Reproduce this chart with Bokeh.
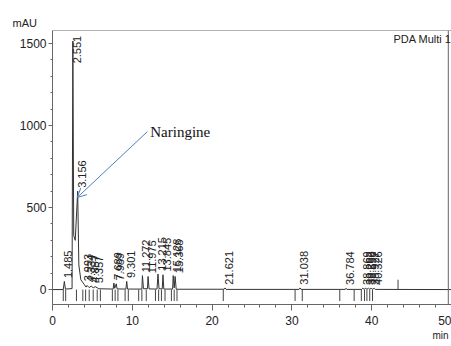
import math
from bokeh.plotting import figure
from bokeh.models import Arrow, OpenHead, Label, Span, FixedTicker, ColumnDataSource, Title
from bokeh.embed import file_html
from bokeh.resources import INLINE

# chromatogram trace (time in min, signal in mAU)
trace_t = [0, 1.35, 1.485, 1.62, 2.45, 2.551, 2.66, 2.85, 3.156, 3.3, 3.55, 3.993, 4.2, 4.334,
           4.6, 4.857, 5.1, 5.357, 5.8, 7.6, 7.689, 7.8, 7.989, 8.1, 9.2, 9.301, 9.4,
           11.2, 11.272, 11.4, 11.9, 11.975, 12.1, 13.1, 13.215, 13.35, 13.75, 13.845, 13.95,
           15.05, 15.128, 15.25, 15.368, 15.5, 21.5, 21.621, 21.75, 30.9, 31.038, 31.15,
           36.7, 36.784, 36.9, 38.75, 38.869, 39.05, 39.262, 39.4, 39.590, 39.75, 39.927,
           40.1, 40.326, 40.45, 50]
trace_y = [0, 0, 50, 3, 6, 1515, 330, 300, 600, 150, 60, 30, 15, 25,
           12, 22, 10, 18, 5, 3, 40, 8, 35, 4, 3, 50, 3,
           3, 85, 5, 5, 80, 4, 3, 95, 5, 4, 90, 3,
           3, 85, 10, 80, 2, 2, 10, 1, 1, 10, 1,
           1, 8, 1, 1, 8, 2, 8, 2, 8, 2, 8,
           2, 8, 1, 0]

# labelled peaks
peak_times = [1.485, 2.551, 3.156, 3.993, 4.334, 4.857, 5.357, 7.689, 7.989, 9.301,
              11.272, 11.975, 13.215, 13.845, 15.128, 15.368, 21.621, 31.038, 36.784,
              38.869, 39.262, 39.590, 39.927, 40.326]
peak_heights = [50, 1515, 600, 30, 25, 22, 18, 40, 35, 50,
                85, 80, 95, 90, 85, 80, 10, 10, 8,
                8, 8, 8, 8, 8]
peak_labels = ["%.3f" % t for t in peak_times]

# integration marks on the baseline
mark_times = [1.35, 1.65, 3.0, 3.8, 4.15, 4.6, 5.1, 5.6, 6.0, 7.5, 7.85, 8.2, 9.1, 9.5,
              10.8, 11.2, 11.75, 12.9, 13.3, 13.65, 14.1, 14.9, 15.25, 15.6, 21.4,
              30.4, 31.3, 36.0, 37.8, 38.7, 39.1, 39.4, 39.75, 40.1]
event_times = [43.3]

x_ticks = [0, 10, 20, 30, 40, 50]
y_ticks = [0, 500, 1000, 1500]

Y0, Y1 = -91, 1579
NARROW = "'Liberation Sans Narrow', 'Liberation Sans', sans-serif"

p = figure(width=451, height=346, x_range=(0, 50), y_range=(Y0, Y1),
           output_backend="svg", toolbar_location=None,
           min_border_left=52, min_border_right=0, min_border_top=30, min_border_bottom=42)
p.outline_line_color = None
p.xgrid.visible = False
p.ygrid.visible = False
p.background_fill_color = "white"

p.title.text = "mAU"
p.title.align = "left"
p.title.offset = -40
p.title.text_font = NARROW
p.title.text_font_size = "11px"
p.title.text_font_style = "normal"
p.title.text_color = "#222222"
p.title.standoff = 4

p.add_layout(Title(text="min", align="left", offset=380, text_font=NARROW,
                   text_font_size="10px", text_font_style="normal",
                   text_color="#222222", standoff=0), "below")

for ax in (p.xaxis[0], p.yaxis[0]):
    ax.axis_line_color = "#666666"
    ax.major_tick_line_color = "#666666"
    ax.minor_tick_line_color = "#666666"
    ax.major_label_text_font = NARROW
    ax.major_label_text_font_size = "12px"
    ax.major_label_text_color = "#222222"

p.xaxis.ticker = FixedTicker(ticks=x_ticks, minor_ticks=list(range(0, 51, 2)))
p.xaxis.major_tick_out = 6
p.xaxis.major_tick_in = 0
p.xaxis.minor_tick_out = 3
p.xaxis.minor_tick_in = 0
p.xaxis.major_label_standoff = 5

p.yaxis.ticker = FixedTicker(ticks=y_ticks, minor_ticks=list(range(0, 1501, 100)))
p.yaxis.major_tick_out = 4
p.yaxis.major_tick_in = 0
p.yaxis.minor_tick_out = 2
p.yaxis.minor_tick_in = 0
p.yaxis.major_label_standoff = 2

# frame top and right
p.add_layout(Span(location=Y1, dimension="width", line_color="#666666", line_width=1))
p.add_layout(Span(location=49.6, dimension="height", line_color="#666666", line_width=1))

# trace
p.line(trace_t, trace_y, line_color="#333333", line_width=1)

# integration marks
p.segment(x0=mark_times, y0=[0] * len(mark_times), x1=mark_times, y1=[-70] * len(mark_times),
          line_color="#444444", line_width=1)
p.segment(x0=event_times, y0=[0] * len(event_times), x1=event_times, y1=[60] * len(event_times),
          line_color="#444444", line_width=1)

# peak labels
label_y = [min(h + 20, Y1 - 200) for h in peak_heights]
src = ColumnDataSource(dict(x=peak_times, y=label_y, text=peak_labels))
p.text(x="x", y="y", text="text", source=src, angle=math.pi / 2,
       text_align="left", text_baseline="top", text_font_size="11px",
       text_font={"value": "Liberation Sans"}, text_color="#222222")

# annotation arrow
p.add_layout(Arrow(end=OpenHead(size=9, line_color="#4f81bd", line_width=1),
                   x_start=11.9, y_start=963, x_end=3.1, y_end=561,
                   line_color="#4f81bd", line_width=1))
p.add_layout(Label(x=12.25, y=963, text="Naringine", text_baseline="middle",
                   text_font="Liberation Serif", text_font_size="15px", text_color="#111111"))

p.add_layout(Label(x=50, y=1561, text="PDA Multi 1", text_align="right", text_baseline="top",
                   text_font=NARROW, text_font_size="11px", text_color="#222222"))

open("out.html", "w").write(file_html(p, INLINE))
